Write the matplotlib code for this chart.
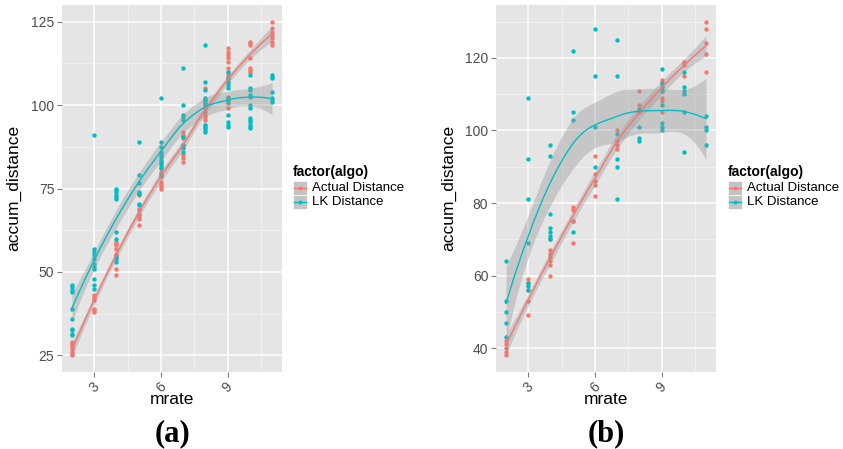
import numpy as np
import matplotlib
matplotlib.use("Agg")
import matplotlib.pyplot as plt
from matplotlib.patches import Rectangle
from matplotlib.lines import Line2D

plt.rcParams['font.family'] = ['Liberation Sans', 'DejaVu Sans']

# ---------------- data ----------------
mrate_levels = [2, 3, 4, 5, 6, 7, 8, 9, 10, 11]
series_names = ["Actual Distance", "LK Distance"]
legend_title = "factor(algo)"

# panel (a)
a_actual = [
    [29, 28.5, 28, 27.5, 27, 26, 25.5, 25],
    [43, 42.5, 42, 41.5, 39, 38.5, 38],
    [59, 58.5, 58, 57, 55.5, 55, 54.5, 51, 49],
    [73.5, 73, 69, 68.5, 67.5, 67, 66.5, 66, 64],
    [82.5, 81.5, 81, 80, 79.5, 78.5, 77, 76, 75.5, 75],
    [92, 91, 90.5, 90, 88, 87.5, 85, 84, 83],
    [105, 101.5, 100.5, 100, 99, 98, 97, 96.5, 95.5, 94, 93],
    [117, 116, 115, 114, 113, 111, 110, 109, 108, 107, 102.5, 101.5, 100.5, 99],
    [119, 118.5, 118, 114, 111, 110.5, 110],
    [125, 123, 122, 121, 120, 119, 118],
]
a_lk = [
    [46, 45.5, 44.5, 44, 39, 36, 33, 32.5, 31.5, 31],
    [91, 57, 56, 55, 54, 52.5, 51.5, 51, 48, 46, 45],
    [75, 74.5, 74, 73, 72.5, 72, 62, 60, 54.5, 54, 53],
    [89, 79, 76.5, 74, 73.5, 70.5, 70],
    [102, 89, 87.5, 86, 85, 84.5, 83.5, 83, 82, 81, 79],
    [111, 100, 97, 96.5, 95.5, 90.5, 88, 87, 86],
    [118, 107, 104.5, 102, 101.5, 100.5, 94, 93.5, 92.5, 92],
    [110, 108, 107, 106, 105, 102, 101, 97, 95, 94, 93.5],
    [109, 105, 104.5, 103, 102.5, 100, 99, 96, 95.5, 95, 94, 93.5, 93],
    [109, 108.5, 108, 104, 102, 101.5, 101],
]
a_yticks = [25, 50, 75, 100, 125]

# panel (b)
b_actual = [
    [42, 41, 40, 39, 38],
    [59, 58, 56, 53, 49],
    [70, 67, 66, 65, 64, 63, 60],
    [79, 78, 75, 75, 69],
    [93, 88, 86, 85, 82],
    [100, 97, 96, 95],
    [111, 107, 105],
    [114, 113, 111, 109, 108, 105],
    [119, 118.5, 118, 115],
    [130, 128, 124, 121, 116],
]
b_lk = [
    [64, 53, 50, 47, 43],
    [109, 92, 81, 69, 58, 57, 56],
    [96, 93, 77, 73, 72, 71, 70],
    [122, 105, 103, 72],
    [128, 115, 101, 90],
    [125, 115, 99, 92, 90, 81],
    [106, 101, 98, 97],
    [117, 113, 112, 111, 107, 102, 101, 100],
    [116, 112, 111, 110, 105, 94],
    [104, 101, 100, 96],
]
b_yticks = [40, 60, 80, 100, 120]

xticks = [3, 6, 9]

# ---------------- style ----------------
RED = "#F8766D"
CYAN = "#00BFC4"
PANEL_BG = "#E5E5E5"
BAND = "#999999"
TICKCOL = "#4D4D4D"


def flatten(levels, groups):
    xs, ys = [], []
    for lv, g in zip(levels, groups):
        xs.extend([lv] * len(g))
        ys.extend(g)
    return np.array(xs, float), np.array(ys, float)


def loess(x, y, xgrid, span=0.75, cell=0.2):
    """Local quadratic loess with kd-tree vertices + cubic Hermite
    interpolation (like R's default surface='interpolate')."""
    n = len(x)
    q = int(np.floor(n * span))
    fc = int(np.floor(n * span * cell))

    def local(x0):
        d = np.abs(x - x0)
        h = np.sort(d)[q - 1] * 1.0001
        w = np.clip(1 - (d / h) ** 3, 0, None) ** 3
        X = np.column_stack([np.ones(n), x - x0, (x - x0) ** 2])
        A = X.T @ (w[:, None] * X)
        B = np.linalg.solve(A, X.T * w)
        return B[0], B[1]

    lo, hi = x.min(), x.max()
    mu = 0.005 * (hi - lo)
    lo, hi = lo - mu, hi + mu
    verts = {lo, hi}

    def split(pts, lower, upper):
        k = len(pts)
        if k <= fc:
            return
        m = (1 + k) // 2 - 1
        while m > 0 and pts[m - 1] == pts[m]:
            m -= 1
        v = pts[m]
        if v == lower or v == upper:
            return
        verts.add(v)
        split(pts[:m + 1], lower, v)
        split(pts[m + 1:], v, upper)

    split(np.sort(x), lo, hi)
    V = np.array(sorted(verts))
    LV, LD = zip(*[local(v) for v in V])
    LV, LD = np.array(LV), np.array(LD)

    def lvec(x0):
        i = np.clip(np.searchsorted(V, x0) - 1, 0, len(V) - 2)
        h = V[i + 1] - V[i]
        t = (x0 - V[i]) / h
        h00 = 2 * t ** 3 - 3 * t ** 2 + 1
        h10 = t ** 3 - 2 * t ** 2 + t
        h01 = -2 * t ** 3 + 3 * t ** 2
        h11 = t ** 3 - t ** 2
        return h00 * LV[i] + h10 * h * LD[i] + h01 * LV[i + 1] + h11 * h * LD[i + 1]

    L = np.array([lvec(v) for v in x])
    res = y - L @ y
    IL = np.eye(n) - L
    delta1 = np.trace(IL.T @ IL)
    sigma = np.sqrt(np.sum(res ** 2) / delta1)
    fit, se = [], []
    for v in xgrid:
        l = lvec(v)
        fit.append(l @ y)
        se.append(sigma * np.sqrt(np.sum(l ** 2)))
    return np.array(fit), np.array(se)


def draw_panel(ax, actual, lk, yticks):
    ax.set_facecolor(PANEL_BG)
    for s in ax.spines.values():
        s.set_visible(False)
    xa, ya = flatten(mrate_levels, actual)
    xl, yl = flatten(mrate_levels, lk)
    allx = np.concatenate([xa, xl])
    ally = np.concatenate([ya, yl])
    xr = allx.max() - allx.min()
    yr = ally.max() - ally.min()
    xlim = (allx.min() - 0.05 * xr, allx.max() + 0.05 * xr)
    ylim = (ally.min() - 0.05 * yr, ally.max() + 0.05 * yr)

    ax.set_xticks(xticks)
    ax.set_yticks(yticks)
    xstep = xticks[1] - xticks[0]
    xminor = [t + xstep / 2 for t in [xticks[0] - xstep] + xticks]
    ystep = yticks[1] - yticks[0]
    yminor = [t + ystep / 2 for t in [yticks[0] - ystep] + yticks]
    xminor = [v for v in xminor if xlim[0] < v < xlim[1]]
    yminor = [v for v in yminor if ylim[0] < v < ylim[1]]
    ax.set_xticks(xminor, minor=True)
    ax.set_yticks(yminor, minor=True)
    ax.set_xlim(*xlim)
    ax.set_ylim(*ylim)
    ax.grid(True, which='major', color='white', lw=1.1)
    ax.grid(True, which='minor', color='#F2F2F2', lw=0.6)
    ax.set_axisbelow(True)
    ax.tick_params(which='minor', length=0)
    ax.tick_params(which='major', length=3.5, width=0.8, color='#7F7F7F',
                   labelcolor=TICKCOL, labelsize=10, pad=2)
    for lab in ax.get_xticklabels():
        lab.set_rotation(45)

    grid = np.linspace(2, 11, 90)
    for xs, ys, col in ((xa, ya, RED), (xl, yl, CYAN)):
        ax.scatter(xs, ys, s=10, color=col, lw=0, zorder=3)
    for xs, ys, col in ((xa, ya, RED), (xl, yl, CYAN)):
        f, se = loess(xs, ys, grid)
        ax.fill_between(grid, f - 1.98 * se, f + 1.98 * se, color=BAND,
                        alpha=0.4, lw=0, zorder=4)
        ax.plot(grid, f, color=col, lw=1.0, zorder=5)
    ax.set_xlim(*xlim)
    ax.set_ylim(*ylim)


W, H = 843, 449
fig = plt.figure(figsize=(W / 100, H / 100), dpi=100)
axA = fig.add_axes([62 / W, 77 / H, 220 / W, 367 / H])
axB = fig.add_axes([496 / W, 77 / H, 220 / W, 367 / H])
draw_panel(axA, a_actual, a_lk, a_yticks)
draw_panel(axB, b_actual, b_lk, b_yticks)

# overlay in pixel coordinates for titles / legends
ov = fig.add_axes([0, 0, 1, 1], facecolor='none')
ov.set_xlim(0, W)
ov.set_ylim(H, 0)
ov.axis('off')

for cx, lab in ((172, "(a)"), (606, "(b)")):
    ov.text(cx, 400, "mrate", ha='center', va='center', fontsize=12.5)
    ov.text(cx, 434, lab, ha='center', va='center', fontsize=22,
            fontweight='bold', family=['Liberation Serif', 'DejaVu Serif'])
for yx in (14, 449):
    ov.text(yx, 188, "accum_distance", ha='center', va='center',
            fontsize=12.5, rotation=90)


def legend(x0):
    ov.text(x0, 172, legend_title, ha='left', va='center', fontsize=10,
            fontweight='bold')
    for i, (name, col) in enumerate(zip(series_names, (RED, CYAN))):
        yc = 188 + 14 * i
        ov.add_patch(Rectangle((x0, yc - 7), 14, 14, facecolor='#C4C4C4',
                               edgecolor='white', lw=0.5))
        ov.add_line(Line2D([x0 + 1, x0 + 13], [yc, yc], color=col, lw=1.0))
        ov.plot([x0 + 7], [yc], 'o', color=col, ms=2.8, mew=0)
        ov.text(x0 + 19, yc, name, ha='left', va='center', fontsize=9.5)


legend(293)
legend(728)

fig.savefig("out.png", dpi=100)
